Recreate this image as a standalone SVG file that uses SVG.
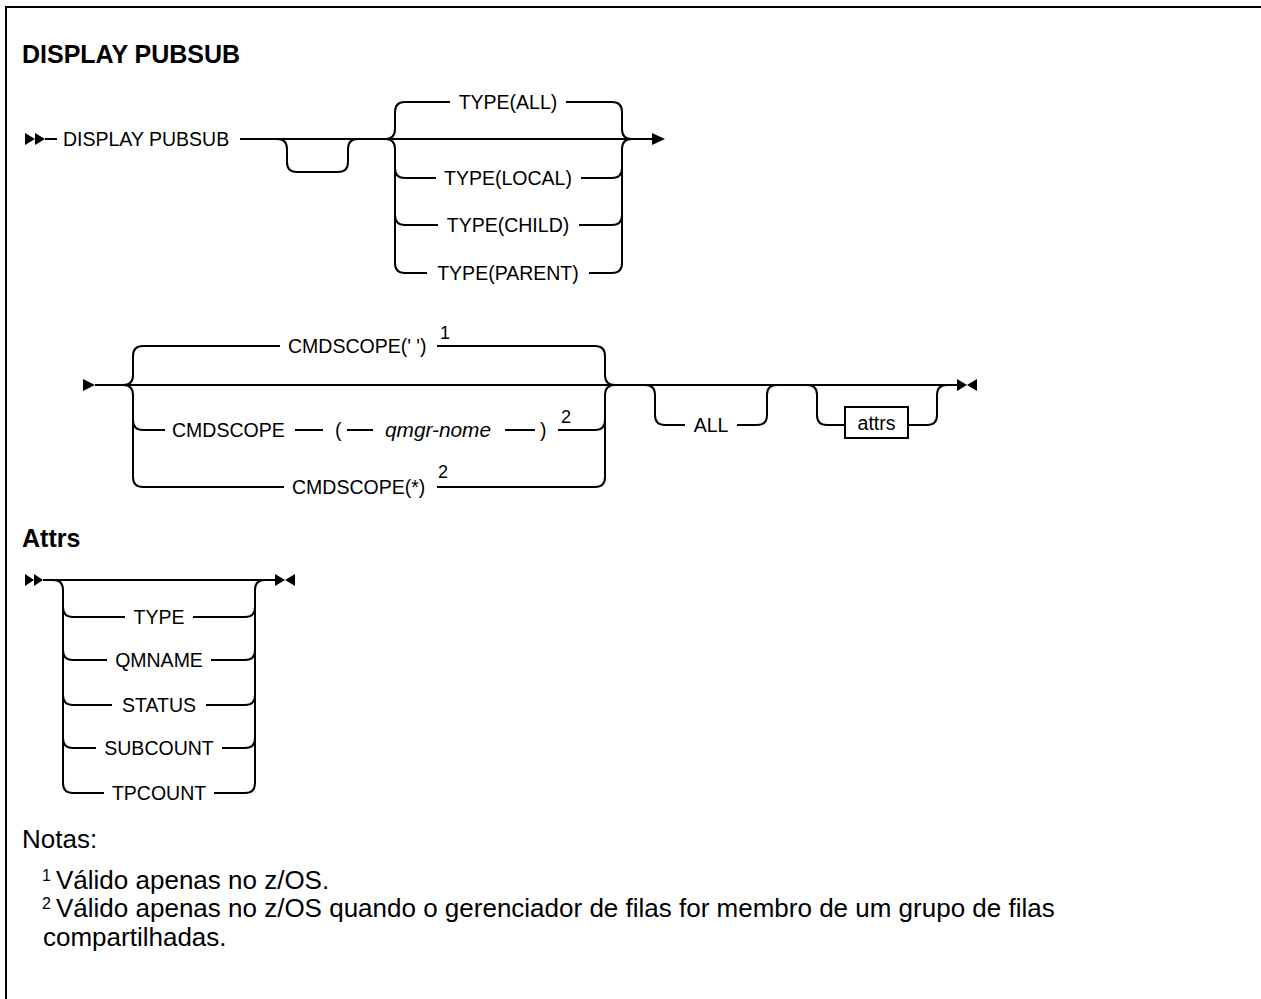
<svg xmlns="http://www.w3.org/2000/svg" width="1261" height="999" viewBox="0 0 1261 999">
<style>
.l{fill:none;stroke:#000;stroke-width:2}
.f{fill:#000;stroke:none}
.t{font-family:"Liberation Sans",Arial,sans-serif;font-size:19.5px;fill:#000}
.m{text-anchor:middle}
.i{font-style:italic}
.h{font-family:"Liberation Sans",Arial,sans-serif;font-size:25px;font-weight:bold;fill:#000}
.s{font-family:"Liberation Sans",Arial,sans-serif;font-size:18px;fill:#000}
.n{font-family:"Liberation Sans",Arial,sans-serif;font-size:26px;fill:#000}
.ns{font-family:"Liberation Sans",Arial,sans-serif;font-size:16px;fill:#000}
</style>
<rect width="1261" height="999" fill="#fff"/>
<path class="l" d="M6,999 V7 H1261"/>

<g id="title"><text class="h" x="22" y="63">DISPLAY PUBSUB</text></g>
<g id="attrs-title"><text class="h" x="22" y="547">Attrs</text></g>

<g id="connectors">
  <!-- row 1 -->
  <polygon class="f" points="25,133 35,139 25,145"/>
  <polygon class="f" points="35,133 45,139 35,145"/>
  <path class="l" d="M45,139 H57"/>
  <path class="l" d="M240,139 H653"/>
  <path class="l" d="M277,139 Q287,139 287,149 V162 Q287,172 297,172 H338 Q348,172 348,162 V149 Q348,139 358,139"/>
  <path class="l" d="M385,139 Q395,139 395,129 V112 Q395,102 405,102 H450"/>
  <path class="l" d="M385,139 Q395,139 395,149 V263 Q395,273 405,273 H427"/>
  <path class="l" d="M395,168 Q395,178 405,178 H436"/>
  <path class="l" d="M395,215 Q395,225 405,225 H438"/>
  <path class="l" d="M566,102 H612 Q622,102 622,112 V129 Q622,139 632,139"/>
  <path class="l" d="M589,273 H612 Q622,273 622,263 V149 Q622,139 632,139"/>
  <path class="l" d="M581,178 H612 Q622,178 622,168"/>
  <path class="l" d="M579,225 H612 Q622,225 622,215"/>
  <polygon class="f" points="652,133 665,139 652,145"/>

  <!-- row 2 -->
  <polygon class="f" points="83,379 95,385 83,391"/>
  <path class="l" d="M95,385 H957"/>
  <path class="l" d="M123,385 Q133,385 133,375 V356 Q133,346 143,346 H280"/>
  <path class="l" d="M123,385 Q133,385 133,395 V477 Q133,487 143,487 H284"/>
  <path class="l" d="M133,420 Q133,430 143,430 H165"/>
  <path class="l" d="M295,430 H323"/>
  <path class="l" d="M347,430 H373"/>
  <path class="l" d="M505,430 H535"/>
  <path class="l" d="M558,430 H595 Q605,430 605,420"/>
  <path class="l" d="M437,346 H595 Q605,346 605,356 V375 Q605,385 615,385"/>
  <path class="l" d="M437,487 H595 Q605,487 605,477 V395 Q605,385 615,385"/>
  <path class="l" d="M645,385 Q655,385 655,395 V415 Q655,425 665,425 H685"/>
  <path class="l" d="M737,425 H757 Q767,425 767,415 V395 Q767,385 777,385"/>
  <path class="l" d="M807,385 Q817,385 817,395 V415 Q817,425 827,425 H845"/>
  <path class="l" d="M908,425 H927 Q937,425 937,415 V395 Q937,385 947,385"/>
  <polygon class="f" points="957,379 967,385 957,391"/>
  <polygon class="f" points="977,379 967,385 977,391"/>

  <!-- attrs -->
  <polygon class="f" points="25,574 34,580 25,586"/>
  <polygon class="f" points="34,574 43,580 34,586"/>
  <path class="l" d="M43,580 H275"/>
  <path class="l" d="M53,580 Q63,580 63,590 V783 Q63,793 73,793 H104"/>
  <path class="l" d="M214,793 H245 Q255,793 255,783 V590 Q255,580 265,580"/>
  <path class="l" d="M63,607 Q63,617 73,617 H125"/>
  <path class="l" d="M193,617 H245 Q255,617 255,607"/>
  <path class="l" d="M63,650 Q63,660 73,660 H107"/>
  <path class="l" d="M211,660 H245 Q255,660 255,650"/>
  <path class="l" d="M63,695 Q63,705 73,705 H112"/>
  <path class="l" d="M206,705 H245 Q255,705 255,695"/>
  <path class="l" d="M63,738 Q63,748 73,748 H96"/>
  <path class="l" d="M222,748 H245 Q255,748 255,738"/>
  <polygon class="f" points="275,574 285,580 275,586"/>
  <polygon class="f" points="295,574 285,580 295,586"/>
</g>

<g id="n-display"><text class="t" x="63" y="146">DISPLAY PUBSUB</text></g>
<g id="n-type-all"><text class="t m" x="508" y="109">TYPE(ALL)</text></g>
<g id="n-type-local"><text class="t m" x="508" y="185">TYPE(LOCAL)</text></g>
<g id="n-type-child"><text class="t m" x="508" y="232">TYPE(CHILD)</text></g>
<g id="n-type-parent"><text class="t m" x="508" y="280">TYPE(PARENT)</text></g>

<g id="n-cmdscope-blank"><text class="t" x="288" y="353">CMDSCOPE(' ')</text><text class="s" x="440" y="339">1</text></g>
<g id="n-cmdscope-qmgr">
  <text class="t" x="172" y="437">CMDSCOPE</text>
  <text class="t" x="335" y="437">(</text>
  <text class="t i" x="385" y="437" textLength="106" lengthAdjust="spacingAndGlyphs">qmgr-nome</text>
  <text class="t" x="540" y="437">)</text>
  <text class="s" x="561" y="423">2</text>
</g>
<g id="n-cmdscope-star"><text class="t" x="292" y="494">CMDSCOPE(*)</text><text class="s" x="438" y="478">2</text></g>
<g id="n-all"><text class="t m" x="711" y="432">ALL</text></g>
<g id="n-attrs"><rect class="l" x="845" y="407" width="63" height="31"/><text class="t m" x="876.5" y="430">attrs</text></g>

<g id="n-a-type"><text class="t m" x="159" y="624">TYPE</text></g>
<g id="n-a-qmname"><text class="t m" x="159" y="667">QMNAME</text></g>
<g id="n-a-status"><text class="t m" x="159" y="712">STATUS</text></g>
<g id="n-a-subcount"><text class="t m" x="159" y="755">SUBCOUNT</text></g>
<g id="n-a-tpcount"><text class="t m" x="159" y="800">TPCOUNT</text></g>

<g id="notes">
  <text class="n" x="22" y="848">Notas:</text>
  <text class="ns" x="42" y="881">1</text>
  <text class="n" x="56" y="889">Válido apenas no z/OS.</text>
  <text class="ns" x="42" y="909">2</text>
  <text class="n" x="56" y="917">Válido apenas no z/OS quando o gerenciador de filas for membro de um grupo de filas</text>
  <text class="n" x="43" y="946">compartilhadas.</text>
</g>
</svg>
